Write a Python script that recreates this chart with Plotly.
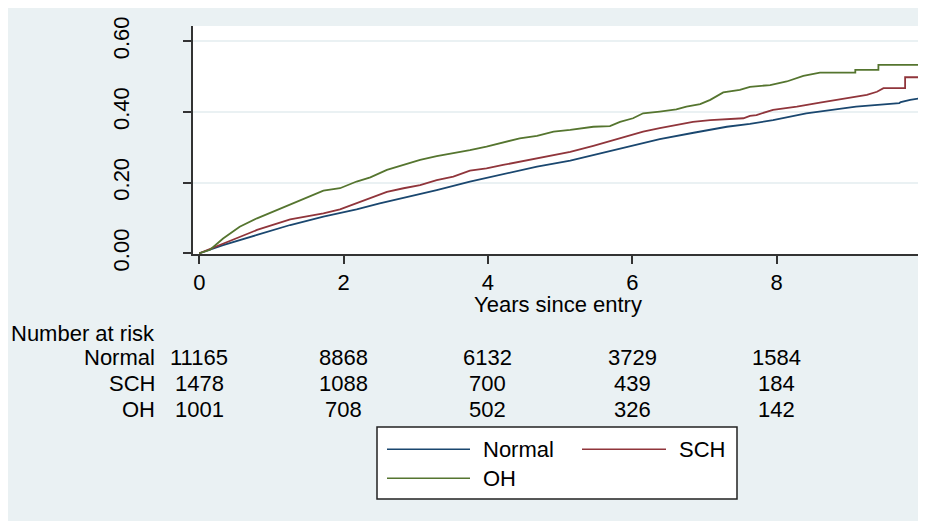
import plotly.graph_objects as go

# ---------------- data ----------------
normal_t = [0, 0.33, 0.80, 1.26, 1.72, 2.18, 2.50, 2.83, 3.29, 3.75, 4.21, 4.68, 5.14,
            5.46, 5.92, 6.38, 6.85, 7.31, 7.63, 7.95, 8.41, 8.87, 9.10, 9.70, 9.72, 9.85, 10.0]
normal_y = [0, 0.023, 0.052, 0.080, 0.104, 0.124, 0.141, 0.156, 0.179, 0.203, 0.224, 0.245, 0.262,
            0.278, 0.300, 0.323, 0.341, 0.358, 0.366, 0.377, 0.396, 0.408, 0.415, 0.425, 0.428, 0.434, 0.439]

sch_t = [0, 0.33, 0.80, 1.26, 1.72, 1.95, 2.18, 2.37, 2.60, 2.83, 3.06, 3.29, 3.52, 3.75, 3.98,
         4.21, 4.44, 4.68, 4.91, 5.14, 5.46, 5.69, 5.92, 6.15, 6.38, 6.61, 6.84, 7.08, 7.31, 7.54,
         7.63, 7.72, 7.95, 8.28, 8.60, 8.90, 9.25, 9.39, 9.48, 9.78, 9.78, 10.0]
sch_y = [0, 0.028, 0.066, 0.096, 0.113, 0.124, 0.142, 0.158, 0.174, 0.184, 0.193, 0.207, 0.217,
         0.234, 0.240, 0.250, 0.259, 0.269, 0.278, 0.287, 0.304, 0.318, 0.330, 0.344, 0.354, 0.363,
         0.372, 0.377, 0.379, 0.382, 0.389, 0.391, 0.406, 0.415, 0.426, 0.436, 0.448, 0.457, 0.467,
         0.467, 0.498, 0.498]

oh_t = [0, 0.15, 0.33, 0.56, 0.80, 1.03, 1.26, 1.49, 1.72, 1.95, 2.18, 2.37, 2.60, 2.83, 3.06,
        3.29, 3.52, 3.75, 3.98, 4.21, 4.44, 4.68, 4.91, 5.14, 5.46, 5.69, 5.83, 6.01, 6.15, 6.38,
        6.61, 6.75, 6.94, 7.08, 7.26, 7.49, 7.63, 7.91, 8.14, 8.37, 8.60, 9.09, 9.09, 9.41, 9.41, 10.0]
oh_y = [0, 0.010, 0.042, 0.075, 0.099, 0.118, 0.137, 0.156, 0.177, 0.184, 0.203, 0.215, 0.236,
        0.250, 0.264, 0.275, 0.283, 0.292, 0.302, 0.313, 0.325, 0.332, 0.344, 0.349, 0.358, 0.360,
        0.372, 0.382, 0.396, 0.401, 0.407, 0.415, 0.422, 0.434, 0.455, 0.462, 0.471, 0.476, 0.486,
        0.502, 0.511, 0.511, 0.519, 0.519, 0.533, 0.533]

group_names = ["Normal", "SCH", "OH"]
risk_times = [0, 2, 4, 6, 8]
risk_normal = [11165, 8868, 6132, 3729, 1584]
risk_sch = [1478, 1088, 700, 439, 184]
risk_oh = [1001, 708, 502, 326, 142]

x_ticks = [0, 2, 4, 6, 8]
y_ticks = [0, 0.2, 0.4, 0.6]
y_ticklabels = ["0.00", "0.20", "0.40", "0.60"]
x_title = "Years since entry"
risk_title = "Number at risk"

# ---------------- styling / layout ----------------
OX, OY = 8, 8                 # page body margin offset
W, H = 918, 513
L, R, T, B = 185, 914, 18, 246  # plot area in figure pixels
COLORS = ["#1A476F", "#90353B", "#55752F"]
BG = "#EAF1F3"
FONT = "Liberation Sans, Arial, sans-serif"
FS = 22


def px(x):
    """reference page x-pixel -> paper coordinate"""
    return (x - OX - L) / (R - L)


def py(y):
    """reference page y-pixel -> paper coordinate"""
    return (B - (y - OY)) / (B - T)


fig = go.Figure()
for t, y, name, c in zip([normal_t, sch_t, oh_t], [normal_y, sch_y, oh_y], group_names, COLORS):
    fig.add_trace(go.Scatter(x=t, y=y, mode="lines", name=name,
                             line=dict(color=c, width=1.8), showlegend=False,
                             hoverinfo="x+y+name"))

shapes = [
    # legend box
    dict(type="rect", xref="paper", yref="paper", x0=px(377), x1=px(737), y0=py(499), y1=py(427),
         fillcolor="white", line=dict(color="#222", width=1.5), layer="above"),
]
legend_pos = [(387, 470, 449.3, 481), (582, 666, 449.3, 677), (387, 470, 478.3, 481)]
annotations = []
for (x0, x1, yy, tx), name, c in zip(legend_pos, group_names, COLORS):
    shapes.append(dict(type="line", xref="paper", yref="paper", x0=px(x0), x1=px(x1),
                       y0=py(yy), y1=py(yy), line=dict(color=c, width=1.6)))
    annotations.append(dict(xref="paper", yref="paper", x=px(tx), y=py(yy), text=name,
                            showarrow=False, xanchor="left", yanchor="middle",
                            font=dict(size=FS, color="black", family=FONT)))

# x axis title
annotations.append(dict(xref="paper", yref="paper", x=px(557.5), y=py(304), text=x_title,
                        showarrow=False, xanchor="center", yanchor="middle",
                        font=dict(size=FS, color="black", family=FONT)))
# number at risk table
annotations.append(dict(xref="paper", yref="paper", x=px(9), y=py(333), text=risk_title,
                        showarrow=False, xanchor="left", yanchor="middle",
                        font=dict(size=FS, color="black", family=FONT)))
row_y = [357, 383, 409]
for name, counts, ry in zip(group_names, [risk_normal, risk_sch, risk_oh], row_y):
    annotations.append(dict(xref="paper", yref="paper", x=px(157), y=py(ry), text=name,
                            showarrow=False, xanchor="right", yanchor="middle",
                            font=dict(size=FS, color="black", family=FONT)))
    for tt, n in zip(risk_times, counts):
        annotations.append(dict(xref="x", yref="paper", x=tt, y=py(ry), text=str(n),
                                showarrow=False, xanchor="center", yanchor="middle",
                                font=dict(size=FS, color="black", family=FONT)))

fig.update_layout(
    width=W, height=H,
    margin=dict(l=L, r=W - R, t=T, b=H - B, pad=0),
    paper_bgcolor=BG, plot_bgcolor="white",
    font=dict(family=FONT, size=FS, color="black"),
    shapes=shapes, annotations=annotations,
    xaxis=dict(range=[-0.087, 10.014], tickvals=x_ticks, ticks="outside", ticklen=8,
               tickwidth=1.5, tickcolor="#333", showline=True, linecolor="#333", linewidth=1.5,
               showgrid=False, zeroline=False, tickfont=dict(size=FS, color="black", family=FONT)),
    yaxis=dict(range=[-0.002, 0.643], tickvals=y_ticks, ticktext=y_ticklabels, ticks="outside",
               ticklen=8, tickwidth=1.5, tickcolor="#333", showline=True, linecolor="#333",
               linewidth=1.5, showgrid=True, gridcolor=BG, gridwidth=1.5, zeroline=False,
               tickangle=-90, ticklabelstandoff=45,
               tickfont=dict(size=FS, color="black", family=FONT)),
)

fig.write_html("out.html")
